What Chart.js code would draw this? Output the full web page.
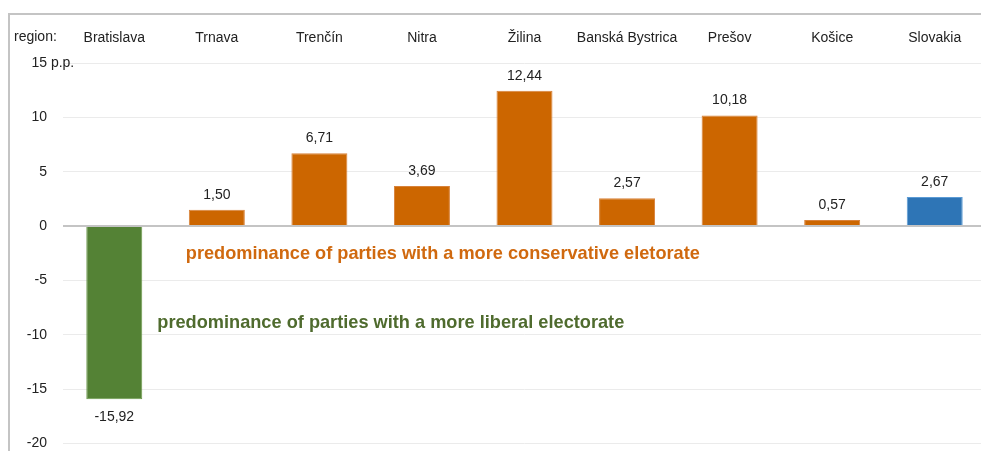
<!DOCTYPE html>
<html>
<head>
<meta charset="utf-8">
<script src="https://cdn.jsdelivr.net/npm/chart.js@4"></script>
<style>
  html, body { margin: 0; padding: 0; background: #fff; overflow: hidden; width: 981px; height: 451px; }
  #wrap { position: absolute; left: 0; top: 0; width: 986px; height: 468px; }
  #frame { position: absolute; left: 8px; top: 13px; width: 990px; height: 450px; border-top: 2px solid #c4c4c4; border-left: 2px solid #c4c4c4; box-sizing: border-box; pointer-events: none; }
</style>
</head>
<body>
<div id="wrap"><canvas id="c" width="986" height="468"></canvas></div>
<div id="frame"></div>
<script>
const categories = ['Bratislava', 'Trnava', 'Trenčín', 'Nitra', 'Žilina', 'Banská Bystrica', 'Prešov', 'Košice', 'Slovakia'];
const values = [-15.92, 1.50, 6.71, 3.69, 12.44, 2.57, 10.18, 0.57, 2.67];
const barColors = ['#548235', '#cc6600', '#cc6600', '#cc6600', '#cc6600', '#cc6600', '#cc6600', '#cc6600', '#2e75b6'];
const borderColors = ['#6c9a4c', '#d8823a', '#d8823a', '#d8823a', '#d8823a', '#d8823a', '#d8823a', '#d8823a', '#5b9bd5'];
const yTicks = [15, 10, 5, 0, -5, -10, -15, -20];
const axisTitle = 'region:';
const unitLabel = ' p.p.';
const noteConservative = 'predominance of parties with a more conservative eletorate';
const noteLiberal = 'predominance of parties with a more liberal electorate';

const FONT = '"Liberation Sans", Arial, sans-serif';

function fmt(v) { return v.toFixed(2).replace('.', ','); }

const extras = {
  id: 'extras',
  afterDraw(chart) {
    const ctx = chart.ctx;
    const x = chart.scales.x, y = chart.scales.y;
    ctx.save();
    ctx.font = '14px ' + FONT;
    ctx.fillStyle = '#222';
    ctx.textBaseline = 'middle';
    ctx.textAlign = 'left';
    ctx.fillText(axisTitle, 14, 37);
    const yTop = y.getPixelForValue(15);
    ctx.fillText(unitLabel, y.right - 16, yTop);
    ctx.textAlign = 'center';
    values.forEach((v, i) => {
      const px = x.getPixelForValue(i);
      const py = y.getPixelForValue(v);
      ctx.fillText(fmt(v), px, v >= 0 ? py - 15 : py + 18);
    });
    function drawFit(text, color, left, cy, target) {
      ctx.font = 'bold 19px "Liberation Sans Narrow", ' + FONT;
      const w = ctx.measureText(text).width;
      ctx.save();
      ctx.translate(left, cy);
      ctx.scale(target / w, 1);
      ctx.fillStyle = color;
      ctx.textAlign = 'left';
      ctx.textBaseline = 'middle';
      ctx.fillText(text, 0, 0);
      ctx.restore();
    }
    drawFit(noteConservative, '#d0690f', x.getPixelForValue(1) - 31, y.getPixelForValue(-2.5), 514);
    drawFit(noteLiberal, '#4f6b2e', x.getPixelForValue(0) + 43, y.getPixelForValue(-8.85), 467);
    ctx.restore();
  }
};

new Chart(document.getElementById('c'), {
  type: 'bar',
  data: {
    labels: categories,
    datasets: [{
      data: values,
      backgroundColor: barColors,
      borderColor: borderColors,
      borderWidth: 1,
      categoryPercentage: 1,
      barPercentage: 0.546
    }]
  },
  options: {
    responsive: false,
    animation: false,
    devicePixelRatio: 1,
    layout: { padding: { left: 0, right: 0, top: 0, bottom: 8 } },
    plugins: { legend: { display: false }, tooltip: { enabled: false } },
    scales: {
      x: {
        position: 'top',
        grid: { display: false, drawTicks: false },
        border: { display: false },
        ticks: { color: '#222', font: { family: FONT, size: 14 }, padding: 16, maxRotation: 0, autoSkip: false },
        afterFit(s) { s.height = 63; }
      },
      y: {
        min: -20, max: 15,
        afterBuildTicks(s) { s.ticks = yTicks.map(v => ({ value: v })); },
        grid: {
          drawTicks: false,
          color: ctx => ctx.tick && ctx.tick.value === 0 ? '#c4c4c4' : '#ebebeb',
          lineWidth: ctx => ctx.tick && ctx.tick.value === 0 ? 2 : 1
        },
        border: { display: false },
        ticks: { color: '#222', font: { family: FONT, size: 14 }, padding: 16, callback: v => String(v) },
        afterFit(s) { s.width = 63; }
      }
    }
  },
  plugins: [extras]
});
</script>
</body>
</html>
